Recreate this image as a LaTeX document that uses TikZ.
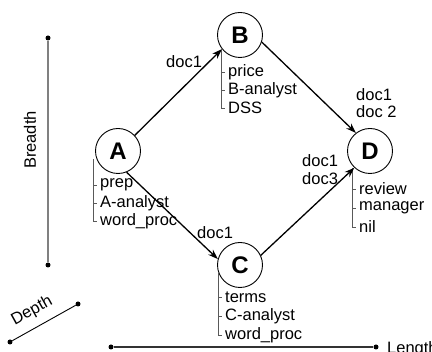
\documentclass[tikz,border=0pt]{standalone}
\usepackage{fontspec}
\setmainfont{Liberation Sans}
\usetikzlibrary{arrows.meta}
\tikzset{
  state/.style={circle,draw=black,line width=0.9pt,minimum size=45pt,inner sep=0pt,
    font=\fontsize{24}{24}\selectfont\bfseries},
  item/.style={anchor=west,inner xsep=3pt,inner ysep=0pt,font=\fontsize{16.5}{16.5}\selectfont},
  lbl/.style={anchor=west,inner sep=0pt,font=\fontsize{16.5}{16.5}\selectfont},
  listline/.style={draw=black!65,line width=0.9pt},
  flow/.style={draw=black,line width=1.3pt,-{Stealth[length=10pt,width=7pt]}},
  dot/.style={circle,fill=black,inner sep=0pt,minimum size=5pt},
}
\begin{document}
\begin{tikzpicture}[x=1pt,y=-1pt]
\useasboundingbox (0,0) rectangle (432,352);
% states
\node[state] (A) at (118,151) {A};
\node[state] (B) at (240,35) {B};
\node[state] (C) at (240,265) {C};
\node[state] (D) at (370,151) {D};
% attribute lists
\coordinate (At) at (93,159);
\node[item] (A1) at (97,185) {prep};
\node[item] (A2) at (97,203) {A-analyst};
\node[item] (A3) at (97,221) {word\_proc};
\draw[listline] (At) |- (A3.west);
\draw[listline] (A1.west -| At) -- (A1.west);
\draw[listline] (A2.west -| At) -- (A2.west);
\coordinate (Bt) at (221,50);
\node[item] (B1) at (225,72) {price};
\node[item] (B2) at (225,90) {B-analyst};
\node[item] (B3) at (225,108) {DSS};
\draw[listline] (Bt) |- (B3.west);
\draw[listline] (B1.west -| Bt) -- (B1.west);
\draw[listline] (B2.west -| Bt) -- (B2.west);
\coordinate (Ct) at (218,272);
\node[item] (C1) at (222,297) {terms};
\node[item] (C2) at (222,316) {C-analyst};
\node[item] (C3) at (222,335) {word\_proc};
\draw[listline] (Ct) |- (C3.west);
\draw[listline] (C1.west -| Ct) -- (C1.west);
\draw[listline] (C2.west -| Ct) -- (C2.west);
\coordinate (Dt) at (352,168);
\node[item] (D1) at (356,189) {review};
\node[item] (D2) at (356,208) {manager};
\node[item] (D3) at (356,227) {nil};
\draw[listline] (Dt) |- (D3.west);
\draw[listline] (D1.west -| Dt) -- (D1.west);
\draw[listline] (D2.west -| Dt) -- (D2.west);
% flows
\draw[flow] (A.43) -- (B.-142);
\draw[flow] (B.-18) -- (D.128);
\draw[flow] (A.-68) -- (C.165);
\draw[flow] (C.25) -- (D.-133);
% flow labels
\node[lbl] (lab1) at (166,62) {doc1};
\node[lbl] (lab2a) at (356,95) {doc1};
\node[lbl] (lab2b) at (356,112) {doc 2};
\node[lbl] (lab3a) at (302,161) {doc1};
\node[lbl] (lab3b) at (302,179) {doc3};
\node[lbl] (lab4) at (197,233) {doc1};
% axes
\node[dot] (b1) at (48,38) {};
\node[dot] (b2) at (48,265) {};
\draw[draw=black!50,line width=1.6pt] (b1) -- (b2);
\node[lbl,anchor=center,rotate=90] (bl) at (30,140) {Breadth};
\node[dot] (d1) at (10,342) {};
\node[dot] (d2) at (78,304) {};
\draw[line width=0.9pt] (d1) -- (d2);
\node[lbl,anchor=center,rotate=29] (dl) at (32,311) {Depth};
\node[dot] (l1) at (111,347) {};
\node[dot] (l2) at (376,347) {};
\draw[draw=black!80,line width=1.2pt] (l1) -- (l2);
\node[lbl] (ll) at (387,349) {Length};
\end{tikzpicture}
\end{document}
